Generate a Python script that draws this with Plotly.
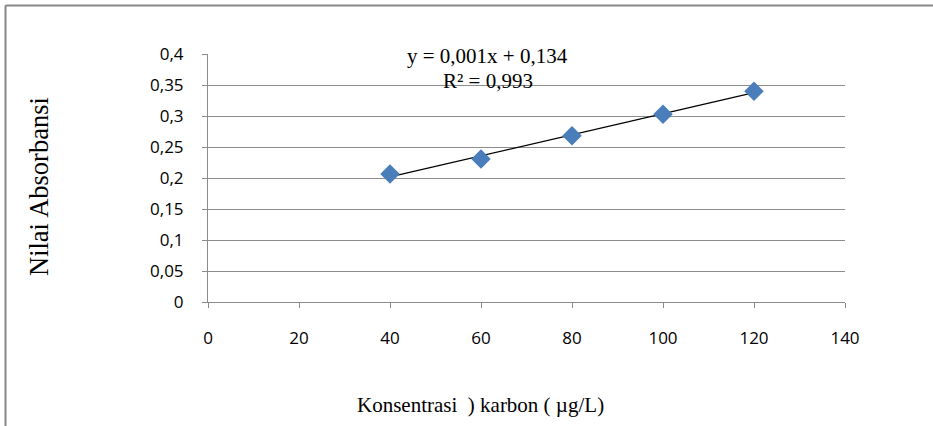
import numpy as np
import plotly.graph_objects as go

# Data
konsentrasi = [40, 60, 80, 100, 120]
absorbansi = [0.2065, 0.2306, 0.2682, 0.303, 0.340]
y_tickvals = [0, 0.05, 0.1, 0.15, 0.2, 0.25, 0.3, 0.35, 0.4]
y_ticktext = ["0", "0,05", "0,1", "0,15", "0,2", "0,25", "0,3", "0,35", "0,4"]
x_tickvals = [0, 20, 40, 60, 80, 100, 120, 140]
x_ticktext = ["0", "20", "40", "60", "80", "100", "120", "140"]
equation_text = "y = 0,001x + 0,134"
r2_text = "R² = 0,993"
x_title = "Konsentrasi  ) karbon ( µg/L)"
y_title = "Nilai Absorbansi"

# Linear trend line (least squares fit of the data)
slope, intercept = np.polyfit(konsentrasi, absorbansi, 1)
trend_x = [min(konsentrasi), max(konsentrasi)]
trend_y = [slope * v + intercept for v in trend_x]

W, H = 933, 426
L, R, T, B = 208, 845, 54, 302  # plot area pixel bounds


def px(x):
    return (x - L) / (R - L)


def py(y):
    return (B - y) / (B - T)


fig = go.Figure()
fig.add_trace(go.Scatter(
    x=trend_x, y=trend_y, mode="lines",
    line=dict(color="black", width=1.3), hoverinfo="skip", showlegend=False))
fig.add_trace(go.Scatter(
    x=konsentrasi, y=absorbansi, mode="markers",
    marker=dict(symbol="diamond", size=15, color="#4a7ebb",
                line=dict(width=0)),
    showlegend=False))

grid = "#8c8c8c"
tickfont = dict(family="Open Sans, Liberation Sans, sans-serif", size=17, color="#000")
fig.update_xaxes(
    range=[0, 140], tickvals=x_tickvals, ticktext=x_ticktext,
    showgrid=False, zeroline=False, showline=True, linecolor=grid, linewidth=1,
    ticks="outside", ticklen=5, tickcolor=grid,
    ticklabelstandoff=16,
    tickfont=tickfont,
)
fig.update_yaxes(
    range=[0, 0.4], tickvals=y_tickvals, ticktext=y_ticktext,
    showgrid=True, gridcolor=grid, gridwidth=1, zeroline=False,
    showline=True, linecolor=grid, linewidth=1,
    ticks="outside", ticklen=5, tickcolor=grid,
    ticklabelstandoff=15,
    tickfont=tickfont,
)

serif = "Liberation Serif, Times New Roman, serif"
common = dict(xref="paper", yref="paper", showarrow=False,
              xanchor="center", yanchor="middle")
annotations = [
    dict(text=equation_text, x=px(487), y=py(56),
         font=dict(family=serif, size=21, color="#000"), **common),
    dict(text=r2_text, x=px(488), y=py(81),
         font=dict(family=serif, size=21, color="#000"), **common),
    dict(text=x_title, x=px(480), y=py(405),
         font=dict(family=serif, size=21, color="#000"), **common),
    dict(text=y_title, x=px(39), y=py(187), textangle=-90,
         font=dict(family=serif, size=26.5, color="#000"), **common),
]

border = "#878787"
shapes = [
    dict(type="line", xref="paper", yref="paper", x0=px(5.5), x1=px(W + 5),
         y0=py(5.5), y1=py(5.5), line=dict(color=border, width=2)),
    dict(type="line", xref="paper", yref="paper", x0=px(5.5), x1=px(5.5),
         y0=py(5.5), y1=py(H + 5), line=dict(color=border, width=2)),
]

fig.update_layout(
    width=W, height=H,
    margin=dict(l=L, r=W - R, t=T, b=H - B),
    paper_bgcolor="white", plot_bgcolor="white",
    annotations=annotations, shapes=shapes,
    separators=",.",
)

fig.write_html(
    "out.html",
    config={"displayModeBar": False},
    post_script="document.body.style.margin='0';document.body.style.padding='0';document.body.style.overflow='hidden';",
)
